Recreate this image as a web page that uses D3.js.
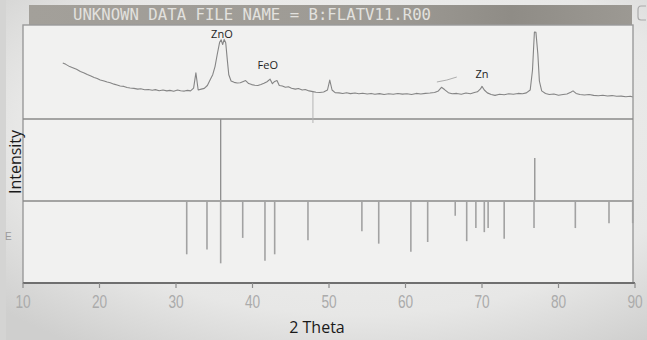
<!DOCTYPE html>
<html>
<head>
<meta charset="utf-8">
<script src="https://cdn.jsdelivr.net/npm/d3@7"></script>
<style>
  html, body { margin: 0; padding: 0; background: #e6e6e6; }
  svg { display: block; }
</style>
</head>
<body>
<div id="chart"></div>
<script>
// measured trace (2 theta, counts)
const twoTheta = [15.2,15.6,16.1,16.5,17.0,17.5,18.0,18.4,18.8,19.3,19.7,20.1,20.6,21.0,21.4,21.9,22.3,22.7,23.2,23.6,
  24.0,24.5,25.0,25.4,25.9,26.4,26.9,27.3,27.8,28.3,28.8,29.2,29.7,30.2,30.6,31.1,31.5,31.9,32.3,32.6,
  32.9,33.3,33.7,34.1,34.5,34.8,35.1,35.4,35.7,35.9,36.1,36.3,36.5,36.7,36.9,37.2,37.6,38.0,38.4,38.8,
  39.1,39.5,39.9,40.3,40.7,41.1,41.5,41.9,42.3,42.6,42.9,43.2,43.5,43.9,44.3,44.7,45.1,45.6,46.0,46.5,
  46.9,47.4,47.9,48.3,48.8,49.3,49.8,50.1,50.4,50.8,51.3,51.8,52.3,52.8,53.4,53.9,54.4,55.0,55.5,56.0,
  56.6,57.2,57.8,58.4,59.0,59.6,60.2,60.8,61.4,62.0,62.6,63.2,63.8,64.3,64.7,65.1,65.6,66.1,66.7,67.3,
  67.9,68.5,69.0,69.4,69.8,70.0,70.3,70.7,71.2,71.7,72.3,72.9,73.5,74.1,74.7,75.3,75.8,76.3,76.6,76.85,
  77.05,77.3,77.5,77.8,78.3,78.8,79.4,80.0,80.6,81.1,81.6,81.9,82.3,82.8,83.4,84.0,84.6,85.2,85.8,86.4,
  87.0,87.6,88.2,88.8,89.4,89.7];
const counts = [600,585,560,548,530,505,490,472,458,440,428,412,400,388,380,365,356,345,340,328,
  322,318,310,314,302,306,298,304,292,300,290,296,286,300,292,288,296,290,320,490,
  300,310,318,350,420,470,560,700,830,858,805,862,825,640,470,400,385,378,380,395,
  405,372,360,352,350,362,375,392,420,370,395,405,350,345,330,336,320,310,316,300,
  306,290,282,275,272,278,300,410,300,270,268,262,270,260,266,258,264,255,262,252,
  260,250,258,252,262,254,258,250,262,256,262,266,272,290,330,305,270,258,262,252,
  266,258,272,280,312,340,300,268,250,240,252,248,258,252,262,258,268,300,520,945,
  940,700,400,290,262,250,255,242,250,256,275,290,262,250,244,250,240,236,242,234,
  238,230,232,225,230,222];

// reference pattern sticks (lower panel, hanging down)
const refTheta = [31.4,34.05,35.84,38.72,41.63,42.9,47.25,54.3,56.5,60.7,62.9,66.5,68.0,69.2,70.3,70.8,72.9,76.8,82.2,86.6,89.7];
const refInt   = [65,59,76,45,73,65,48,37,52,62,50,18,49,33,38,33,46,33,33,27,27];

// matched lines (middle panel)
const matchTheta = [35.84, 76.9];
const matchInt   = [100, 52];

const xTicks = [10,20,30,40,50,60,70,80,90];

const peakLabels = ["ZnO", "FeO", "Zn"];
const peakTheta  = [36.0, 42.0, 70.0];
const peakCounts = [876, 533, 433];

const width = 647, height = 340;
const left = 23, right = 635;
const topY = 25, mid1 = 119, mid2 = 201, bottomY = 283;

const svg = d3.select('#chart').append('svg')
  .attr('width', width).attr('height', height);

// paper background
const defs = svg.append('defs');
const bg = defs.append('radialGradient').attr('id', 'paper')
  .attr('cx', '55%').attr('cy', '40%').attr('r', '75%');
bg.append('stop').attr('offset', '0%').attr('stop-color', '#f2f2f1');
bg.append('stop').attr('offset', '70%').attr('stop-color', '#e7e7e6');
bg.append('stop').attr('offset', '100%').attr('stop-color', '#cfcfce');
svg.append('rect').attr('width', width).attr('height', height).attr('fill', 'url(#paper)');
svg.append('rect').attr('width', 6).attr('height', height).attr('fill', '#d4d4d3');

const hdr = defs.append('linearGradient').attr('id', 'hdr');
hdr.append('stop').attr('offset', '0%').attr('stop-color', '#a3a09a');
hdr.append('stop').attr('offset', '60%').attr('stop-color', '#9d9a94');
hdr.append('stop').attr('offset', '80%').attr('stop-color', '#8f8c86');
hdr.append('stop').attr('offset', '100%').attr('stop-color', '#9c9993');

const x = d3.scaleLinear().domain([10, 90]).range([left, right]);
const yTop = d3.scaleLinear().domain([0, 1000]).range([117, 27]);
const yMid = d3.scaleLinear().domain([0, 100]).range([mid2 - 1, mid1]);
const yBot = d3.scaleLinear().domain([0, 100]).range([mid2, bottomY]);

const g = svg.append('g');

// header bar
g.append('rect')
  .attr('x', left + 6).attr('y', 5)
  .attr('width', right - left - 9).attr('height', topY - 5)
  .attr('fill', 'url(#hdr)');
g.append('text')
  .attr('x', 73).attr('y', 20)
  .attr('textLength', 358).attr('lengthAdjust', 'spacingAndGlyphs')
  .attr('font-family', '"DejaVu Sans Mono", monospace')
  .attr('font-size', 15)
  .attr('fill', '#e2e1de')
  .text('UNKNOWN DATA FILE NAME = B:FLATV11.R00');

// frame
const frame = g.append('g').attr('fill', 'none').attr('stroke', '#8c8c8c').attr('stroke-width', 1.4);
frame.append('rect').attr('x', left).attr('y', topY).attr('width', right - left - 2).attr('height', bottomY - topY)
  .attr('fill', '#f1f1f0').attr('stroke', '#9a9a9a');
[mid1, mid2].forEach(yy => frame.append('line')
  .attr('x1', left).attr('x2', right - 2).attr('y1', yy).attr('y2', yy).attr('stroke', '#8a8a8a'));
frame.append('line').attr('x1', left).attr('x2', right).attr('y1', bottomY).attr('y2', bottomY)
  .attr('stroke', '#6f6f6f').attr('stroke-width', 1.8);

// paper crease artifact
g.append('line').attr('x1', x(47.9)).attr('x2', x(47.9)).attr('y1', 92).attr('y2', mid1 + 4)
  .attr('stroke', '#b4b4b4').attr('stroke-width', 1);

// measured trace
const pts = twoTheta.map((t, i) => [t, counts[i]]);
const line = d3.line().x(d => x(d[0])).y(d => yTop(d[1]));
g.append('path').datum(pts)
  .attr('d', line)
  .attr('fill', 'none')
  .attr('stroke', '#858585')
  .attr('stroke-width', 1.1)
  .attr('stroke-linejoin', 'round');

// Zn leader line
g.append('path')
  .attr('d', `M${x(64.1)},${yTop(389)} Q${x(65.4)},${yTop(405)} ${x(66.7)},${yTop(444)}`)
  .attr('fill', 'none').attr('stroke', '#a5a5a5').attr('stroke-width', 0.9);

// matched lines
g.selectAll('.match').data(matchTheta).enter().append('line')
  .attr('class', 'match')
  .attr('x1', d => x(d)).attr('x2', d => x(d))
  .attr('y1', yMid(0)).attr('y2', (d, i) => yMid(matchInt[i]))
  .attr('stroke', '#8e8e8e').attr('stroke-width', 1.3);

// reference sticks
g.selectAll('.ref').data(refTheta).enter().append('line')
  .attr('class', 'ref')
  .attr('x1', d => x(d)).attr('x2', d => x(d))
  .attr('y1', yBot(0)).attr('y2', (d, i) => yBot(refInt[i]))
  .attr('stroke', '#a2a2a2').attr('stroke-width', 1.6);

// x axis ticks + labels
g.selectAll('.tick').data(xTicks).enter().append('line')
  .attr('x1', d => x(d)).attr('x2', d => x(d))
  .attr('y1', bottomY).attr('y2', bottomY + 5)
  .attr('stroke', '#8c8c8c').attr('stroke-width', 1.2);
g.selectAll('.tlabel').data(xTicks).enter().append('text')
  .attr('transform', d => `translate(${x(d)},308) scale(0.72,1)`)
  .attr('text-anchor', 'middle')
  .attr('font-family', '"Liberation Sans", sans-serif')
  .attr('font-size', 19)
  .attr('fill', '#ababab')
  .text(d => d);

// peak annotations
g.selectAll('.plabel').data(peakLabels).enter().append('text')
  .attr('x', (d, i) => x(peakTheta[i])).attr('y', (d, i) => yTop(peakCounts[i]))
  .attr('text-anchor', 'middle')
  .attr('font-family', '"Open Sans", "Noto Sans", sans-serif')
  .attr('font-size', 11)
  .attr('fill', '#1e1e1e')
  .text(d => d);

// axis titles
svg.append('text')
  .attr('transform', 'translate(21,162) rotate(-90)')
  .attr('text-anchor', 'middle')
  .attr('font-family', '"Open Sans", "Noto Sans", sans-serif')
  .attr('font-size', 16)
  .attr('fill', '#1a1a1a')
  .text('Intensity');
svg.append('text')
  .attr('x', 317).attr('y', 333)
  .attr('text-anchor', 'middle')
  .attr('font-family', '"Open Sans", "Noto Sans", sans-serif')
  .attr('font-size', 16)
  .attr('fill', '#1a1a1a')
  .text('2 Theta');

// stray marks on the photo
svg.append('text').attr('x', 5).attr('y', 240)
  .attr('font-family', 'sans-serif').attr('font-size', 10).attr('fill', '#9a9a9a').text('E');
svg.append('path').attr('d', 'M646,6 L641,6 Q638,6 638,10 L638,17 Q638,20 641,20 L646,20')
  .attr('fill', 'none').attr('stroke', '#aaaaaa').attr('stroke-width', 1.2);
</script>
</body>
</html>
